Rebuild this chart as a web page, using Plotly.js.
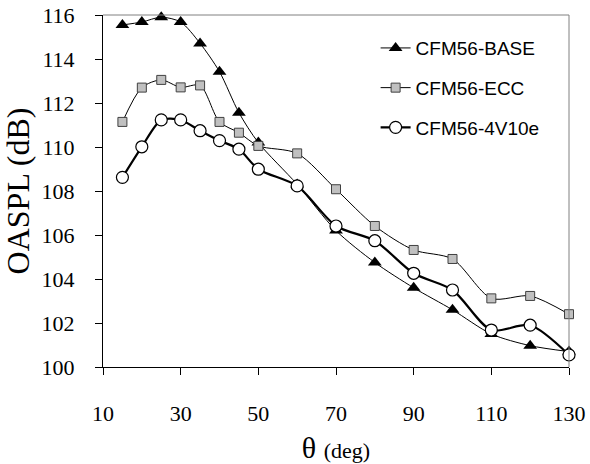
<!DOCTYPE html>
<html>
<head>
<meta charset="utf-8">
<script src="https://cdn.plot.ly/plotly-3.0.1.min.js"></script>
<style>html,body{margin:0;padding:0;background:#fff}#chart{width:590px;height:464px}</style>
</head>
<body>
<div id="chart"></div>
<script>
const theta = [15, 20, 25, 30, 35, 40, 45, 50, 60, 70, 80, 90, 100, 110, 120, 130];
const base  = [115.55, 115.68, 115.9, 115.68, 114.71, 113.42, 111.56, 110.2, 108.3, 106.2, 104.75, 103.6, 102.6, 101.5, 100.97, 100.7];
const ecc   = [111.14, 112.7, 113.05, 112.71, 112.8, 111.14, 110.65, 110.05, 109.71, 108.08, 106.41, 105.32, 104.91, 103.12, 103.23, 102.4];
const v10e  = [108.62, 110.01, 111.23, 111.23, 110.74, 110.29, 109.9, 108.99, 108.23, 106.41, 105.74, 104.26, 103.5, 101.68, 101.9, 100.55];
const names = ['CFM56-BASE', 'CFM56-ECC', 'CFM56-4V10e'];
const xTicks = [10, 30, 50, 70, 90, 110, 130];
const yTicks = [100, 102, 104, 106, 108, 110, 112, 114, 116];

const serif = 'Times New Roman, Liberation Serif, serif';
const sans = 'Liberation Sans';

const traces = [
  {x: theta, y: base, name: names[0], legendgroup: 'a', mode: 'lines+markers', cliponaxis: false,
   line: {color: '#000', width: 1, shape: 'spline', smoothing: 0.8},
   marker: {symbol: 'triangle-up', size: 12, color: '#000', line: {color: '#000', width: 0}}},
  {x: theta, y: ecc, name: names[1], legendgroup: 'b', mode: 'lines+markers', cliponaxis: false,
   line: {color: '#000', width: 1, shape: 'spline', smoothing: 0.8},
   marker: {symbol: 'square', size: 9, color: '#c0c0c0', line: {color: '#404040', width: 1}}},
  {x: theta, y: v10e, name: names[2], legendgroup: 'c', mode: 'lines+markers', cliponaxis: false,
   line: {color: '#000', width: 2.2, shape: 'spline', smoothing: 0.8},
   marker: {symbol: 'circle', size: 12, color: '#fff', line: {color: '#000', width: 1.2}}}
];

const layout = {
  width: 590, height: 464,
  font: {family: serif, size: 22, color: '#000'},
  margin: {l: 103, r: 21, t: 15, b: 97, pad: 0},
  paper_bgcolor: '#fff', plot_bgcolor: '#fff',
  showlegend: true,
  legend: {x: 0.585, y: 0.96, xanchor: 'left', yanchor: 'top',
           font: {family: sans, size: 19, color: '#000'},
           bgcolor: 'rgba(0,0,0,0)', tracegroupgap: 12, traceorder: 'grouped'},
  xaxis: {range: [10, 130], tickvals: xTicks, ticktext: xTicks.map(String), automargin: false,
          showgrid: false, zeroline: false, showline: true, linecolor: '#000', linewidth: 1,
          ticks: 'outside', ticklen: 7, tickcolor: '#000', ticklabelstandoff: 20,
          tickfont: {family: serif, size: 22, color: '#000'},
          title: {text: 'θ <span style="font-size:22px">(deg)</span>', standoff: 18,
                  font: {family: serif, size: 30, color: '#000'}}},
  yaxis: {range: [100, 116], tickvals: yTicks, ticktext: yTicks.map(String), automargin: false,
          showgrid: false, zeroline: false, showline: true, linecolor: '#000', linewidth: 1,
          ticks: 'outside', ticklen: 7, tickcolor: '#000', ticklabelstandoff: 16,
          tickfont: {family: serif, size: 22, color: '#000'},
          title: {text: 'OASPL (dB)', standoff: 8,
                  font: {family: serif, size: 32, color: '#000'}}},
  shapes: [
    {type: 'line', xref: 'paper', yref: 'paper', x0: 0, x1: 1, y0: 1, y1: 1, line: {color: '#808080', width: 1}},
    {type: 'line', xref: 'paper', yref: 'paper', x0: 1, x1: 1, y0: 0, y1: 1, line: {color: '#808080', width: 1}}
  ]
};

Plotly.newPlot('chart', traces, layout, {displayModeBar: false, staticPlot: true});
</script>
</body>
</html>
